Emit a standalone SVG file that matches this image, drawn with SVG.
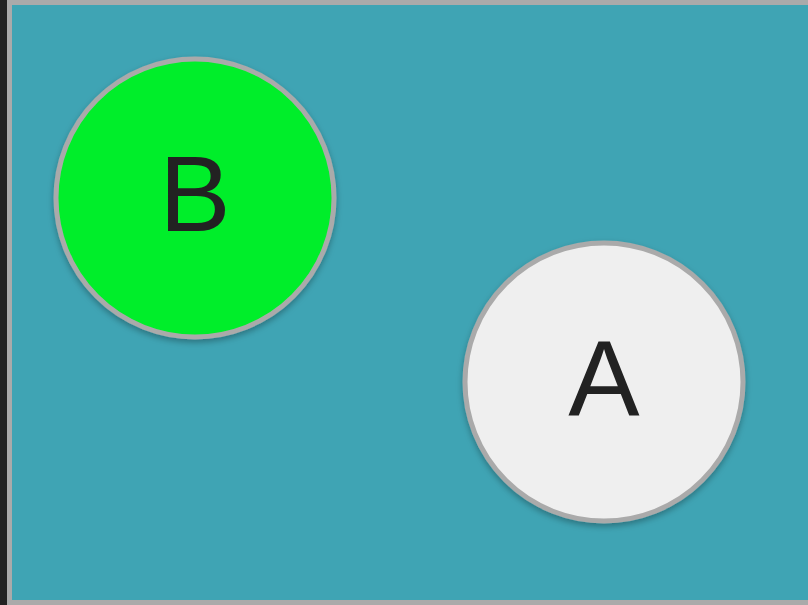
<svg xmlns="http://www.w3.org/2000/svg" width="808" height="605" viewBox="0 0 808 605">
<style>
.node circle{stroke:#aaaaaa;stroke-width:5}
.node text{font-family:"Liberation Sans",Arial,sans-serif;font-size:107px;fill:#222222;text-anchor:middle}
</style>
<defs>
<filter id="sh" x="-20%" y="-20%" width="140%" height="140%">
<feDropShadow dx="0" dy="3" stdDeviation="3" flood-color="#000" flood-opacity="0.3"/>
</filter>
</defs>
<rect x="0" y="0" width="808" height="605" fill="#222222"/>
<rect x="9.5" y="2.5" width="820" height="600" fill="#3fa4b4" stroke="#aaaaaa" stroke-width="5"/>
<g id="connectors"></g>
<g id="node-B" class="node">
<circle cx="195" cy="198" r="139" fill="#00ee2a" filter="url(#sh)"/>
<text x="195" y="231">B</text>
</g>
<g id="node-A" class="node">
<circle cx="604" cy="382" r="139" fill="#efefef" filter="url(#sh)"/>
<text x="604" y="416">A</text>
</g>
</svg>
